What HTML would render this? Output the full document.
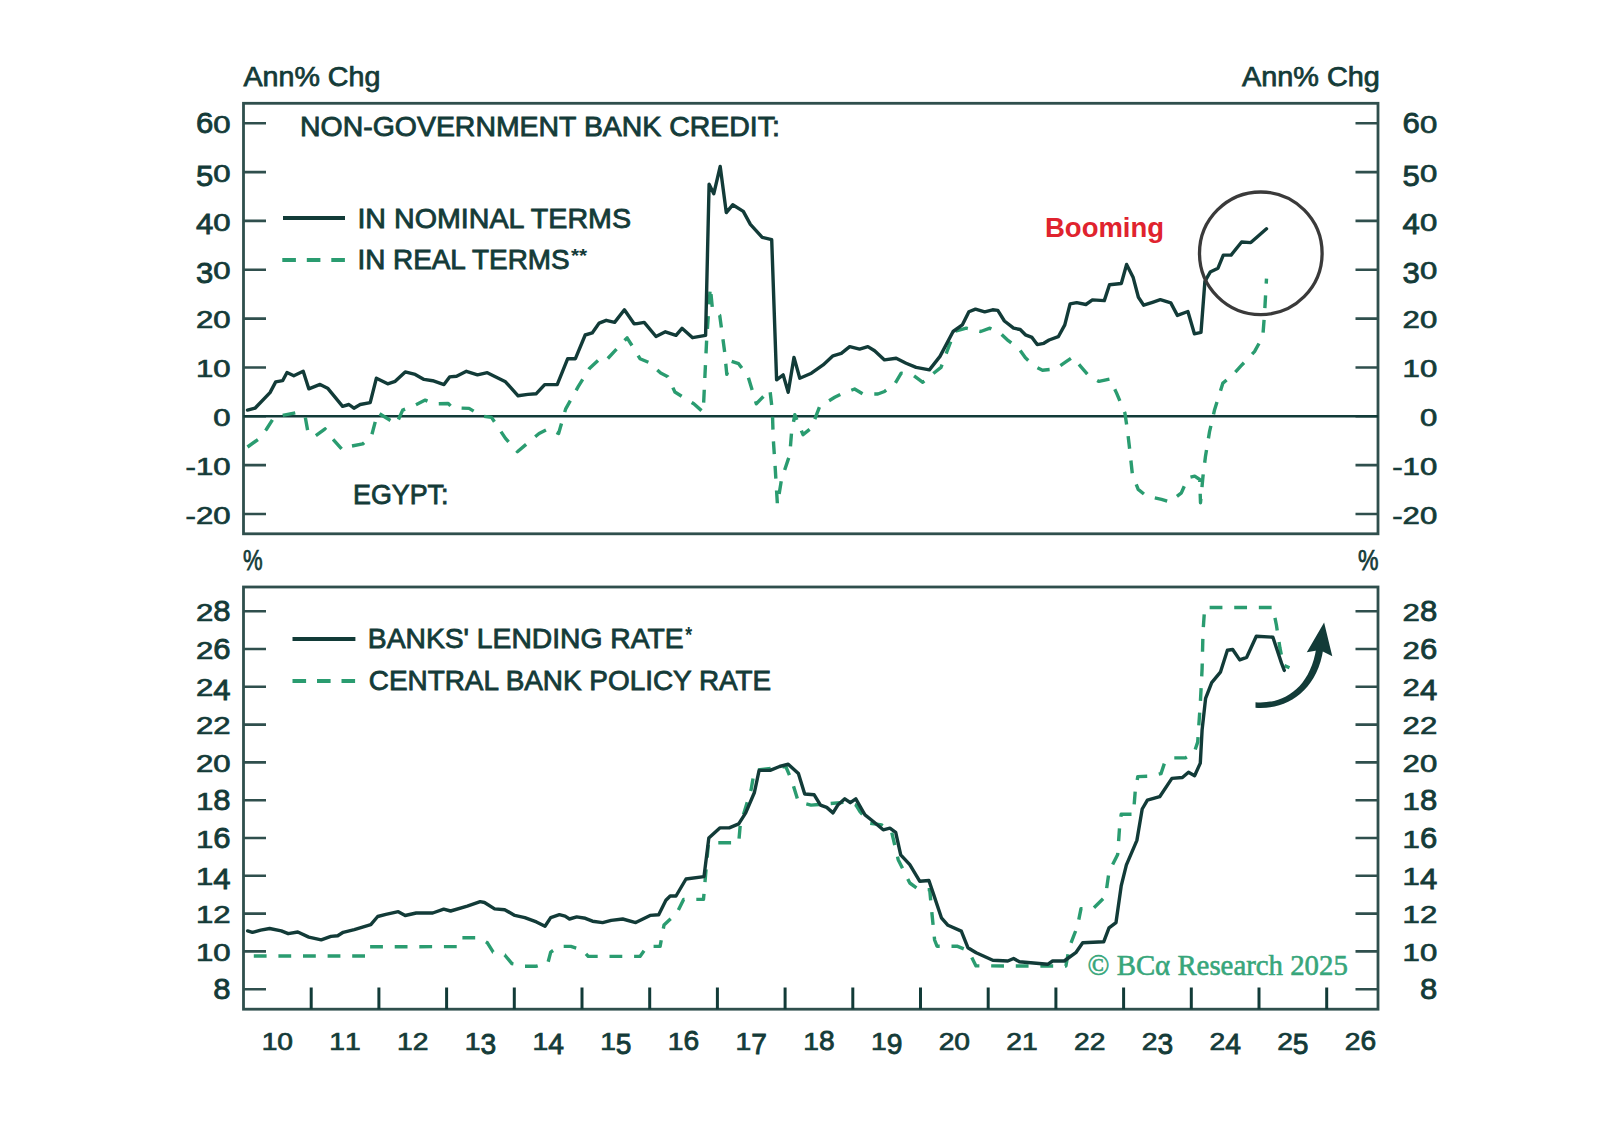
<!DOCTYPE html>
<html><head><meta charset="utf-8"><style>
html,body{margin:0;padding:0;background:#fff;}
body{width:1598px;height:1144px;overflow:hidden;}
svg{display:block;}
</style></head><body>
<svg width="1598" height="1144" viewBox="0 0 1598 1144">
<rect width="1598" height="1144" fill="#fff"/>
<text x="243.50" y="86.00" font-family="Liberation Sans" font-size="26.96" font-weight="normal" fill="#143b38" stroke="#143b38" stroke-width="0.75" textLength="136.84" lengthAdjust="spacingAndGlyphs">Ann% Chg</text>
<text x="1242.00" y="86.00" font-family="Liberation Sans" font-size="26.96" font-weight="normal" fill="#143b38" stroke="#143b38" stroke-width="0.75" textLength="137.84" lengthAdjust="spacingAndGlyphs">Ann% Chg</text>
<text x="300.00" y="135.50" font-family="Liberation Sans" font-size="28.24" font-weight="normal" fill="#143b38" stroke="#143b38" stroke-width="0.85" textLength="479.83" lengthAdjust="spacingAndGlyphs">NON-GOVERNMENT BANK CREDIT:</text>
<text x="357.40" y="227.50" font-family="Liberation Sans" font-size="27.56" font-weight="normal" fill="#143b38" stroke="#143b38" stroke-width="0.85" textLength="273.63" lengthAdjust="spacingAndGlyphs">IN NOMINAL TERMS</text>
<text x="357.40" y="268.50" font-family="Liberation Sans" font-size="26.85" font-weight="normal" fill="#143b38" stroke="#143b38" stroke-width="0.85" textLength="212.17" lengthAdjust="spacingAndGlyphs">IN REAL TERMS</text>
<text x="353.00" y="503.50" font-family="Liberation Sans" font-size="28.39" font-weight="normal" fill="#143b38" stroke="#143b38" stroke-width="0.85" textLength="95.50" lengthAdjust="spacingAndGlyphs">EGYPT:</text>
<text x="1045.00" y="236.50" font-family="Liberation Sans" font-size="28.49" font-weight="bold" fill="#e0232e" textLength="119.08" lengthAdjust="spacingAndGlyphs">Booming</text>
<text x="243.00" y="570.00" font-family="Liberation Sans" font-size="29.49" font-weight="normal" fill="#143b38" stroke="#143b38" stroke-width="0.75" textLength="19.64" lengthAdjust="spacingAndGlyphs">%</text>
<text x="1358.00" y="570.00" font-family="Liberation Sans" font-size="28.67" font-weight="normal" fill="#143b38" stroke="#143b38" stroke-width="0.75" textLength="20.53" lengthAdjust="spacingAndGlyphs">%</text>
<text x="367.80" y="647.50" font-family="Liberation Sans" font-size="28.09" font-weight="normal" fill="#143b38" stroke="#143b38" stroke-width="0.85" textLength="315.84" lengthAdjust="spacingAndGlyphs">BANKS' LENDING RATE</text>
<text x="368.80" y="690.00" font-family="Liberation Sans" font-size="27.97" font-weight="normal" fill="#143b38" stroke="#143b38" stroke-width="0.85" textLength="402.41" lengthAdjust="spacingAndGlyphs">CENTRAL BANK POLICY RATE</text>
<text x="1087.60" y="975.00" font-family="Liberation Serif" font-size="29.65" font-weight="normal" fill="#37a67b" stroke="#37a67b" stroke-width="0.6" textLength="260.21" lengthAdjust="spacingAndGlyphs">© BCα Research 2025</text>
<text x="685.20" y="641.90" font-family="Liberation Sans" font-size="22.39" font-weight="bold" fill="#143b38" textLength="6.87" lengthAdjust="spacingAndGlyphs">*</text>
<text x="571.00" y="262.00" font-family="Liberation Sans" font-size="17.76" font-weight="bold" fill="#143b38" textLength="16.23" lengthAdjust="spacingAndGlyphs">**</text>
<text transform="translate(185.53,523.60) scale(1.27,1)" font-family="Liberation Sans" font-size="24.5" fill="#143b38" stroke="#143b38" stroke-width="0.7">-</text><text transform="translate(195.89,523.60) scale(1.27,1)" font-family="Liberation Sans" font-size="24.5" fill="#143b38" stroke="#143b38" stroke-width="0.7">2</text><text transform="translate(213.19,523.60) scale(1.27,1)" font-family="Liberation Sans" font-size="24.5" fill="#143b38" stroke="#143b38" stroke-width="0.7">0</text>
<text transform="translate(1392.23,523.60) scale(1.27,1)" font-family="Liberation Sans" font-size="24.5" fill="#143b38" stroke="#143b38" stroke-width="0.7">-</text><text transform="translate(1402.59,523.60) scale(1.27,1)" font-family="Liberation Sans" font-size="24.5" fill="#143b38" stroke="#143b38" stroke-width="0.7">2</text><text transform="translate(1419.89,523.60) scale(1.27,1)" font-family="Liberation Sans" font-size="24.5" fill="#143b38" stroke="#143b38" stroke-width="0.7">0</text>
<text transform="translate(185.53,474.75) scale(1.27,1)" font-family="Liberation Sans" font-size="24.5" fill="#143b38" stroke="#143b38" stroke-width="0.7">-</text><text transform="translate(195.89,474.75) scale(1.27,1)" font-family="Liberation Sans" font-size="24.5" fill="#143b38" stroke="#143b38" stroke-width="0.7">1</text><text transform="translate(213.19,474.75) scale(1.27,1)" font-family="Liberation Sans" font-size="24.5" fill="#143b38" stroke="#143b38" stroke-width="0.7">0</text>
<text transform="translate(1392.23,474.75) scale(1.27,1)" font-family="Liberation Sans" font-size="24.5" fill="#143b38" stroke="#143b38" stroke-width="0.7">-</text><text transform="translate(1402.59,474.75) scale(1.27,1)" font-family="Liberation Sans" font-size="24.5" fill="#143b38" stroke="#143b38" stroke-width="0.7">1</text><text transform="translate(1419.89,474.75) scale(1.27,1)" font-family="Liberation Sans" font-size="24.5" fill="#143b38" stroke="#143b38" stroke-width="0.7">0</text>
<text transform="translate(213.19,425.90) scale(1.27,1)" font-family="Liberation Sans" font-size="24.5" fill="#143b38" stroke="#143b38" stroke-width="0.7">0</text>
<text transform="translate(1419.89,425.90) scale(1.27,1)" font-family="Liberation Sans" font-size="24.5" fill="#143b38" stroke="#143b38" stroke-width="0.7">0</text>
<text transform="translate(195.89,377.05) scale(1.27,1)" font-family="Liberation Sans" font-size="24.5" fill="#143b38" stroke="#143b38" stroke-width="0.7">1</text><text transform="translate(213.19,377.05) scale(1.27,1)" font-family="Liberation Sans" font-size="24.5" fill="#143b38" stroke="#143b38" stroke-width="0.7">0</text>
<text transform="translate(1402.59,377.05) scale(1.27,1)" font-family="Liberation Sans" font-size="24.5" fill="#143b38" stroke="#143b38" stroke-width="0.7">1</text><text transform="translate(1419.89,377.05) scale(1.27,1)" font-family="Liberation Sans" font-size="24.5" fill="#143b38" stroke="#143b38" stroke-width="0.7">0</text>
<text transform="translate(195.89,328.20) scale(1.27,1)" font-family="Liberation Sans" font-size="24.5" fill="#143b38" stroke="#143b38" stroke-width="0.7">2</text><text transform="translate(213.19,328.20) scale(1.27,1)" font-family="Liberation Sans" font-size="24.5" fill="#143b38" stroke="#143b38" stroke-width="0.7">0</text>
<text transform="translate(1402.59,328.20) scale(1.27,1)" font-family="Liberation Sans" font-size="24.5" fill="#143b38" stroke="#143b38" stroke-width="0.7">2</text><text transform="translate(1419.89,328.20) scale(1.27,1)" font-family="Liberation Sans" font-size="24.5" fill="#143b38" stroke="#143b38" stroke-width="0.7">0</text>
<text transform="translate(195.89,283.21) scale(1.27,1.22)" font-family="Liberation Sans" font-size="24.5" fill="#143b38" stroke="#143b38" stroke-width="0.7">3</text><text transform="translate(213.19,279.35) scale(1.27,1)" font-family="Liberation Sans" font-size="24.5" fill="#143b38" stroke="#143b38" stroke-width="0.7">0</text>
<text transform="translate(1402.59,283.21) scale(1.27,1.22)" font-family="Liberation Sans" font-size="24.5" fill="#143b38" stroke="#143b38" stroke-width="0.7">3</text><text transform="translate(1419.89,279.35) scale(1.27,1)" font-family="Liberation Sans" font-size="24.5" fill="#143b38" stroke="#143b38" stroke-width="0.7">0</text>
<text transform="translate(195.89,234.36) scale(1.27,1.22)" font-family="Liberation Sans" font-size="24.5" fill="#143b38" stroke="#143b38" stroke-width="0.7">4</text><text transform="translate(213.19,230.50) scale(1.27,1)" font-family="Liberation Sans" font-size="24.5" fill="#143b38" stroke="#143b38" stroke-width="0.7">0</text>
<text transform="translate(1402.59,234.36) scale(1.27,1.22)" font-family="Liberation Sans" font-size="24.5" fill="#143b38" stroke="#143b38" stroke-width="0.7">4</text><text transform="translate(1419.89,230.50) scale(1.27,1)" font-family="Liberation Sans" font-size="24.5" fill="#143b38" stroke="#143b38" stroke-width="0.7">0</text>
<text transform="translate(195.89,185.51) scale(1.27,1.22)" font-family="Liberation Sans" font-size="24.5" fill="#143b38" stroke="#143b38" stroke-width="0.7">5</text><text transform="translate(213.19,181.65) scale(1.27,1)" font-family="Liberation Sans" font-size="24.5" fill="#143b38" stroke="#143b38" stroke-width="0.7">0</text>
<text transform="translate(1402.59,185.51) scale(1.27,1.22)" font-family="Liberation Sans" font-size="24.5" fill="#143b38" stroke="#143b38" stroke-width="0.7">5</text><text transform="translate(1419.89,181.65) scale(1.27,1)" font-family="Liberation Sans" font-size="24.5" fill="#143b38" stroke="#143b38" stroke-width="0.7">0</text>
<text transform="translate(195.89,132.80) scale(1.27,1.2)" font-family="Liberation Sans" font-size="24.5" fill="#143b38" stroke="#143b38" stroke-width="0.7">6</text><text transform="translate(213.19,132.80) scale(1.27,1)" font-family="Liberation Sans" font-size="24.5" fill="#143b38" stroke="#143b38" stroke-width="0.7">0</text>
<text transform="translate(1402.59,132.80) scale(1.27,1.2)" font-family="Liberation Sans" font-size="24.5" fill="#143b38" stroke="#143b38" stroke-width="0.7">6</text><text transform="translate(1419.89,132.80) scale(1.27,1)" font-family="Liberation Sans" font-size="24.5" fill="#143b38" stroke="#143b38" stroke-width="0.7">0</text>
<text transform="translate(213.19,998.80) scale(1.27,1.2)" font-family="Liberation Sans" font-size="24.5" fill="#143b38" stroke="#143b38" stroke-width="0.7">8</text>
<text transform="translate(1419.89,998.80) scale(1.27,1.2)" font-family="Liberation Sans" font-size="24.5" fill="#143b38" stroke="#143b38" stroke-width="0.7">8</text>
<text transform="translate(195.89,961.00) scale(1.27,1)" font-family="Liberation Sans" font-size="24.5" fill="#143b38" stroke="#143b38" stroke-width="0.7">1</text><text transform="translate(213.19,961.00) scale(1.27,1)" font-family="Liberation Sans" font-size="24.5" fill="#143b38" stroke="#143b38" stroke-width="0.7">0</text>
<text transform="translate(1402.59,961.00) scale(1.27,1)" font-family="Liberation Sans" font-size="24.5" fill="#143b38" stroke="#143b38" stroke-width="0.7">1</text><text transform="translate(1419.89,961.00) scale(1.27,1)" font-family="Liberation Sans" font-size="24.5" fill="#143b38" stroke="#143b38" stroke-width="0.7">0</text>
<text transform="translate(195.89,923.20) scale(1.27,1)" font-family="Liberation Sans" font-size="24.5" fill="#143b38" stroke="#143b38" stroke-width="0.7">1</text><text transform="translate(213.19,923.20) scale(1.27,1)" font-family="Liberation Sans" font-size="24.5" fill="#143b38" stroke="#143b38" stroke-width="0.7">2</text>
<text transform="translate(1402.59,923.20) scale(1.27,1)" font-family="Liberation Sans" font-size="24.5" fill="#143b38" stroke="#143b38" stroke-width="0.7">1</text><text transform="translate(1419.89,923.20) scale(1.27,1)" font-family="Liberation Sans" font-size="24.5" fill="#143b38" stroke="#143b38" stroke-width="0.7">2</text>
<text transform="translate(195.89,885.40) scale(1.27,1)" font-family="Liberation Sans" font-size="24.5" fill="#143b38" stroke="#143b38" stroke-width="0.7">1</text><text transform="translate(213.19,889.26) scale(1.27,1.22)" font-family="Liberation Sans" font-size="24.5" fill="#143b38" stroke="#143b38" stroke-width="0.7">4</text>
<text transform="translate(1402.59,885.40) scale(1.27,1)" font-family="Liberation Sans" font-size="24.5" fill="#143b38" stroke="#143b38" stroke-width="0.7">1</text><text transform="translate(1419.89,889.26) scale(1.27,1.22)" font-family="Liberation Sans" font-size="24.5" fill="#143b38" stroke="#143b38" stroke-width="0.7">4</text>
<text transform="translate(195.89,847.60) scale(1.27,1)" font-family="Liberation Sans" font-size="24.5" fill="#143b38" stroke="#143b38" stroke-width="0.7">1</text><text transform="translate(213.19,847.60) scale(1.27,1.2)" font-family="Liberation Sans" font-size="24.5" fill="#143b38" stroke="#143b38" stroke-width="0.7">6</text>
<text transform="translate(1402.59,847.60) scale(1.27,1)" font-family="Liberation Sans" font-size="24.5" fill="#143b38" stroke="#143b38" stroke-width="0.7">1</text><text transform="translate(1419.89,847.60) scale(1.27,1.2)" font-family="Liberation Sans" font-size="24.5" fill="#143b38" stroke="#143b38" stroke-width="0.7">6</text>
<text transform="translate(195.89,809.80) scale(1.27,1)" font-family="Liberation Sans" font-size="24.5" fill="#143b38" stroke="#143b38" stroke-width="0.7">1</text><text transform="translate(213.19,809.80) scale(1.27,1.2)" font-family="Liberation Sans" font-size="24.5" fill="#143b38" stroke="#143b38" stroke-width="0.7">8</text>
<text transform="translate(1402.59,809.80) scale(1.27,1)" font-family="Liberation Sans" font-size="24.5" fill="#143b38" stroke="#143b38" stroke-width="0.7">1</text><text transform="translate(1419.89,809.80) scale(1.27,1.2)" font-family="Liberation Sans" font-size="24.5" fill="#143b38" stroke="#143b38" stroke-width="0.7">8</text>
<text transform="translate(195.89,772.00) scale(1.27,1)" font-family="Liberation Sans" font-size="24.5" fill="#143b38" stroke="#143b38" stroke-width="0.7">2</text><text transform="translate(213.19,772.00) scale(1.27,1)" font-family="Liberation Sans" font-size="24.5" fill="#143b38" stroke="#143b38" stroke-width="0.7">0</text>
<text transform="translate(1402.59,772.00) scale(1.27,1)" font-family="Liberation Sans" font-size="24.5" fill="#143b38" stroke="#143b38" stroke-width="0.7">2</text><text transform="translate(1419.89,772.00) scale(1.27,1)" font-family="Liberation Sans" font-size="24.5" fill="#143b38" stroke="#143b38" stroke-width="0.7">0</text>
<text transform="translate(195.89,734.20) scale(1.27,1)" font-family="Liberation Sans" font-size="24.5" fill="#143b38" stroke="#143b38" stroke-width="0.7">2</text><text transform="translate(213.19,734.20) scale(1.27,1)" font-family="Liberation Sans" font-size="24.5" fill="#143b38" stroke="#143b38" stroke-width="0.7">2</text>
<text transform="translate(1402.59,734.20) scale(1.27,1)" font-family="Liberation Sans" font-size="24.5" fill="#143b38" stroke="#143b38" stroke-width="0.7">2</text><text transform="translate(1419.89,734.20) scale(1.27,1)" font-family="Liberation Sans" font-size="24.5" fill="#143b38" stroke="#143b38" stroke-width="0.7">2</text>
<text transform="translate(195.89,696.40) scale(1.27,1)" font-family="Liberation Sans" font-size="24.5" fill="#143b38" stroke="#143b38" stroke-width="0.7">2</text><text transform="translate(213.19,700.26) scale(1.27,1.22)" font-family="Liberation Sans" font-size="24.5" fill="#143b38" stroke="#143b38" stroke-width="0.7">4</text>
<text transform="translate(1402.59,696.40) scale(1.27,1)" font-family="Liberation Sans" font-size="24.5" fill="#143b38" stroke="#143b38" stroke-width="0.7">2</text><text transform="translate(1419.89,700.26) scale(1.27,1.22)" font-family="Liberation Sans" font-size="24.5" fill="#143b38" stroke="#143b38" stroke-width="0.7">4</text>
<text transform="translate(195.89,658.60) scale(1.27,1)" font-family="Liberation Sans" font-size="24.5" fill="#143b38" stroke="#143b38" stroke-width="0.7">2</text><text transform="translate(213.19,658.60) scale(1.27,1.2)" font-family="Liberation Sans" font-size="24.5" fill="#143b38" stroke="#143b38" stroke-width="0.7">6</text>
<text transform="translate(1402.59,658.60) scale(1.27,1)" font-family="Liberation Sans" font-size="24.5" fill="#143b38" stroke="#143b38" stroke-width="0.7">2</text><text transform="translate(1419.89,658.60) scale(1.27,1.2)" font-family="Liberation Sans" font-size="24.5" fill="#143b38" stroke="#143b38" stroke-width="0.7">6</text>
<text transform="translate(195.89,620.80) scale(1.27,1)" font-family="Liberation Sans" font-size="24.5" fill="#143b38" stroke="#143b38" stroke-width="0.7">2</text><text transform="translate(213.19,620.80) scale(1.27,1.2)" font-family="Liberation Sans" font-size="24.5" fill="#143b38" stroke="#143b38" stroke-width="0.7">8</text>
<text transform="translate(1402.59,620.80) scale(1.27,1)" font-family="Liberation Sans" font-size="24.5" fill="#143b38" stroke="#143b38" stroke-width="0.7">2</text><text transform="translate(1419.89,620.80) scale(1.27,1.2)" font-family="Liberation Sans" font-size="24.5" fill="#143b38" stroke="#143b38" stroke-width="0.7">8</text>
<text transform="translate(261.67,1050.20) scale(1.2,1)" font-family="Liberation Sans" font-size="23.5" fill="#143b38" stroke="#143b38" stroke-width="0.7">1</text><text transform="translate(277.35,1050.20) scale(1.2,1)" font-family="Liberation Sans" font-size="23.5" fill="#143b38" stroke="#143b38" stroke-width="0.7">0</text>
<text transform="translate(329.37,1050.20) scale(1.2,1)" font-family="Liberation Sans" font-size="23.5" fill="#143b38" stroke="#143b38" stroke-width="0.7">1</text><text transform="translate(345.05,1050.20) scale(1.2,1)" font-family="Liberation Sans" font-size="23.5" fill="#143b38" stroke="#143b38" stroke-width="0.7">1</text>
<text transform="translate(397.07,1050.20) scale(1.2,1)" font-family="Liberation Sans" font-size="23.5" fill="#143b38" stroke="#143b38" stroke-width="0.7">1</text><text transform="translate(412.75,1050.20) scale(1.2,1)" font-family="Liberation Sans" font-size="23.5" fill="#143b38" stroke="#143b38" stroke-width="0.7">2</text>
<text transform="translate(464.77,1050.20) scale(1.2,1)" font-family="Liberation Sans" font-size="23.5" fill="#143b38" stroke="#143b38" stroke-width="0.7">1</text><text transform="translate(480.45,1053.90) scale(1.2,1.22)" font-family="Liberation Sans" font-size="23.5" fill="#143b38" stroke="#143b38" stroke-width="0.7">3</text>
<text transform="translate(532.47,1050.20) scale(1.2,1)" font-family="Liberation Sans" font-size="23.5" fill="#143b38" stroke="#143b38" stroke-width="0.7">1</text><text transform="translate(548.15,1053.90) scale(1.2,1.22)" font-family="Liberation Sans" font-size="23.5" fill="#143b38" stroke="#143b38" stroke-width="0.7">4</text>
<text transform="translate(600.17,1050.20) scale(1.2,1)" font-family="Liberation Sans" font-size="23.5" fill="#143b38" stroke="#143b38" stroke-width="0.7">1</text><text transform="translate(615.85,1053.90) scale(1.2,1.22)" font-family="Liberation Sans" font-size="23.5" fill="#143b38" stroke="#143b38" stroke-width="0.7">5</text>
<text transform="translate(667.87,1050.20) scale(1.2,1)" font-family="Liberation Sans" font-size="23.5" fill="#143b38" stroke="#143b38" stroke-width="0.7">1</text><text transform="translate(683.55,1050.20) scale(1.2,1.2)" font-family="Liberation Sans" font-size="23.5" fill="#143b38" stroke="#143b38" stroke-width="0.7">6</text>
<text transform="translate(735.57,1050.20) scale(1.2,1)" font-family="Liberation Sans" font-size="23.5" fill="#143b38" stroke="#143b38" stroke-width="0.7">1</text><text transform="translate(751.25,1053.90) scale(1.2,1.22)" font-family="Liberation Sans" font-size="23.5" fill="#143b38" stroke="#143b38" stroke-width="0.7">7</text>
<text transform="translate(803.27,1050.20) scale(1.2,1)" font-family="Liberation Sans" font-size="23.5" fill="#143b38" stroke="#143b38" stroke-width="0.7">1</text><text transform="translate(818.95,1050.20) scale(1.2,1.2)" font-family="Liberation Sans" font-size="23.5" fill="#143b38" stroke="#143b38" stroke-width="0.7">8</text>
<text transform="translate(870.97,1050.20) scale(1.2,1)" font-family="Liberation Sans" font-size="23.5" fill="#143b38" stroke="#143b38" stroke-width="0.7">1</text><text transform="translate(886.65,1053.90) scale(1.2,1.22)" font-family="Liberation Sans" font-size="23.5" fill="#143b38" stroke="#143b38" stroke-width="0.7">9</text>
<text transform="translate(938.67,1050.20) scale(1.2,1)" font-family="Liberation Sans" font-size="23.5" fill="#143b38" stroke="#143b38" stroke-width="0.7">2</text><text transform="translate(954.35,1050.20) scale(1.2,1)" font-family="Liberation Sans" font-size="23.5" fill="#143b38" stroke="#143b38" stroke-width="0.7">0</text>
<text transform="translate(1006.37,1050.20) scale(1.2,1)" font-family="Liberation Sans" font-size="23.5" fill="#143b38" stroke="#143b38" stroke-width="0.7">2</text><text transform="translate(1022.05,1050.20) scale(1.2,1)" font-family="Liberation Sans" font-size="23.5" fill="#143b38" stroke="#143b38" stroke-width="0.7">1</text>
<text transform="translate(1074.07,1050.20) scale(1.2,1)" font-family="Liberation Sans" font-size="23.5" fill="#143b38" stroke="#143b38" stroke-width="0.7">2</text><text transform="translate(1089.75,1050.20) scale(1.2,1)" font-family="Liberation Sans" font-size="23.5" fill="#143b38" stroke="#143b38" stroke-width="0.7">2</text>
<text transform="translate(1141.77,1050.20) scale(1.2,1)" font-family="Liberation Sans" font-size="23.5" fill="#143b38" stroke="#143b38" stroke-width="0.7">2</text><text transform="translate(1157.45,1053.90) scale(1.2,1.22)" font-family="Liberation Sans" font-size="23.5" fill="#143b38" stroke="#143b38" stroke-width="0.7">3</text>
<text transform="translate(1209.47,1050.20) scale(1.2,1)" font-family="Liberation Sans" font-size="23.5" fill="#143b38" stroke="#143b38" stroke-width="0.7">2</text><text transform="translate(1225.15,1053.90) scale(1.2,1.22)" font-family="Liberation Sans" font-size="23.5" fill="#143b38" stroke="#143b38" stroke-width="0.7">4</text>
<text transform="translate(1277.17,1050.20) scale(1.2,1)" font-family="Liberation Sans" font-size="23.5" fill="#143b38" stroke="#143b38" stroke-width="0.7">2</text><text transform="translate(1292.85,1053.90) scale(1.2,1.22)" font-family="Liberation Sans" font-size="23.5" fill="#143b38" stroke="#143b38" stroke-width="0.7">5</text>
<text transform="translate(1344.87,1050.20) scale(1.2,1)" font-family="Liberation Sans" font-size="23.5" fill="#143b38" stroke="#143b38" stroke-width="0.7">2</text><text transform="translate(1360.55,1050.20) scale(1.2,1.2)" font-family="Liberation Sans" font-size="23.5" fill="#143b38" stroke="#143b38" stroke-width="0.7">6</text>
<rect x="243.5" y="103.3" width="1134.5" height="430.49999999999994" fill="none" stroke="#2f4f4d" stroke-width="2.8"/>
<rect x="243.5" y="587" width="1134.5" height="422.20000000000005" fill="none" stroke="#2f4f4d" stroke-width="2.8"/>
<path d="M243.5,514.0h22.5M1355.5,514.0h22.5" stroke="#2f4f4d" stroke-width="2.6"/>
<path d="M243.5,465.1h22.5M1355.5,465.1h22.5" stroke="#2f4f4d" stroke-width="2.6"/>
<path d="M243.5,416.3h22.5M1355.5,416.3h22.5" stroke="#2f4f4d" stroke-width="2.6"/>
<path d="M243.5,367.5h22.5M1355.5,367.5h22.5" stroke="#2f4f4d" stroke-width="2.6"/>
<path d="M243.5,318.6h22.5M1355.5,318.6h22.5" stroke="#2f4f4d" stroke-width="2.6"/>
<path d="M243.5,269.8h22.5M1355.5,269.8h22.5" stroke="#2f4f4d" stroke-width="2.6"/>
<path d="M243.5,220.9h22.5M1355.5,220.9h22.5" stroke="#2f4f4d" stroke-width="2.6"/>
<path d="M243.5,172.1h22.5M1355.5,172.1h22.5" stroke="#2f4f4d" stroke-width="2.6"/>
<path d="M243.5,123.2h22.5M1355.5,123.2h22.5" stroke="#2f4f4d" stroke-width="2.6"/>
<line x1="243.5" y1="416.3" x2="1378" y2="416.3" stroke="#123b38" stroke-width="2.5"/>
<path d="M243.5,989.2h22.5M1355.5,989.2h22.5" stroke="#2f4f4d" stroke-width="2.6"/>
<path d="M243.5,951.4h22.5M1355.5,951.4h22.5" stroke="#2f4f4d" stroke-width="2.6"/>
<path d="M243.5,913.6h22.5M1355.5,913.6h22.5" stroke="#2f4f4d" stroke-width="2.6"/>
<path d="M243.5,875.8h22.5M1355.5,875.8h22.5" stroke="#2f4f4d" stroke-width="2.6"/>
<path d="M243.5,838.0h22.5M1355.5,838.0h22.5" stroke="#2f4f4d" stroke-width="2.6"/>
<path d="M243.5,800.2h22.5M1355.5,800.2h22.5" stroke="#2f4f4d" stroke-width="2.6"/>
<path d="M243.5,762.4h22.5M1355.5,762.4h22.5" stroke="#2f4f4d" stroke-width="2.6"/>
<path d="M243.5,724.6h22.5M1355.5,724.6h22.5" stroke="#2f4f4d" stroke-width="2.6"/>
<path d="M243.5,686.8h22.5M1355.5,686.8h22.5" stroke="#2f4f4d" stroke-width="2.6"/>
<path d="M243.5,649.0h22.5M1355.5,649.0h22.5" stroke="#2f4f4d" stroke-width="2.6"/>
<path d="M243.5,611.2h22.5M1355.5,611.2h22.5" stroke="#2f4f4d" stroke-width="2.6"/>
<line x1="311.2" y1="987.5" x2="311.2" y2="1009.2" stroke="#123b38" stroke-width="3"/>
<line x1="378.9" y1="987.5" x2="378.9" y2="1009.2" stroke="#123b38" stroke-width="3"/>
<line x1="446.6" y1="987.5" x2="446.6" y2="1009.2" stroke="#123b38" stroke-width="3"/>
<line x1="514.3" y1="987.5" x2="514.3" y2="1009.2" stroke="#123b38" stroke-width="3"/>
<line x1="582.0" y1="987.5" x2="582.0" y2="1009.2" stroke="#123b38" stroke-width="3"/>
<line x1="649.7" y1="987.5" x2="649.7" y2="1009.2" stroke="#123b38" stroke-width="3"/>
<line x1="717.4" y1="987.5" x2="717.4" y2="1009.2" stroke="#123b38" stroke-width="3"/>
<line x1="785.1" y1="987.5" x2="785.1" y2="1009.2" stroke="#123b38" stroke-width="3"/>
<line x1="852.8" y1="987.5" x2="852.8" y2="1009.2" stroke="#123b38" stroke-width="3"/>
<line x1="920.5" y1="987.5" x2="920.5" y2="1009.2" stroke="#123b38" stroke-width="3"/>
<line x1="988.2" y1="987.5" x2="988.2" y2="1009.2" stroke="#123b38" stroke-width="3"/>
<line x1="1055.9" y1="987.5" x2="1055.9" y2="1009.2" stroke="#123b38" stroke-width="3"/>
<line x1="1123.6" y1="987.5" x2="1123.6" y2="1009.2" stroke="#123b38" stroke-width="3"/>
<line x1="1191.3" y1="987.5" x2="1191.3" y2="1009.2" stroke="#123b38" stroke-width="3"/>
<line x1="1259.0" y1="987.5" x2="1259.0" y2="1009.2" stroke="#123b38" stroke-width="3"/>
<line x1="1326.7" y1="987.5" x2="1326.7" y2="1009.2" stroke="#123b38" stroke-width="3"/>
<line x1="283" y1="218" x2="345" y2="218" stroke="#123b38" stroke-width="4.2"/>
<line x1="282.3" y1="260" x2="345" y2="260" stroke="#2a9c70" stroke-width="4.2" stroke-dasharray="13.6 10.9"/>
<line x1="292.5" y1="639" x2="355.4" y2="639" stroke="#123b38" stroke-width="4.2"/>
<line x1="292.5" y1="681" x2="355.4" y2="681" stroke="#2a9c70" stroke-width="4.2" stroke-dasharray="13.6 10.9"/>
<polyline points="247.5,447.0 258.8,438.9 266.3,429.5 273.8,417.6 283.8,415.1 296.3,412.6 305.1,416.3 307.6,430.1 313.8,437.0 325.1,428.9 332.6,438.9 342.6,450.1 350.1,446.4 362.7,443.9 371.4,436.4 377.7,412.6 387.7,418.8 396.4,423.9 402.7,410.1 412.7,406.3 425.2,400.1 434.0,403.8 448.2,403.5 452.4,407.7 469.1,408.4 481.7,416.0 491.5,417.4 505.5,438.4 517.4,451.7 539.1,433.5 548.8,428.6 558.6,433.5 565.6,409.1 578.2,386.7 589.4,368.5 602.0,356.6 607.6,358.7 627.1,337.8 634.1,348.9 640.0,358.7 648.9,362.5 660.7,373.1 667.8,376.7 674.9,392.0 693.8,403.8 703.2,412.1 706.7,338.9 710.3,287.0 712.6,310.6 719.7,315.3 724.5,350.7 726.8,374.3 731.5,361.3 738.6,363.7 748.1,376.7 756.3,403.8 769.9,389.8 772.4,411.4 773.2,438.0 774.9,462.9 777.4,504.4 781.5,479.5 789.8,454.6 791.5,433.0 794.8,414.7 803.0,434.7 811.4,428.0 819.7,406.4 834.7,397.3 841.3,394.0 854.6,389.0 862.9,394.0 877.9,394.0 884.5,391.5 895.3,383.2 901.2,373.2 912.8,374.9 922.8,382.3 932.7,374.0 941.0,367.4 946.6,352.5 954.5,331.5 966.3,328.2 980.7,331.5 989.9,328.2 1000.4,333.4 1008.3,340.7 1018.8,348.6 1025.4,357.8 1034.6,366.3 1042.5,370.2 1055.6,368.9 1066.1,361.7 1072.7,357.1 1080.6,366.3 1089.1,376.1 1099.0,381.4 1110.0,379.0 1116.6,393.1 1124.9,413.0 1127.4,429.7 1129.9,451.2 1132.4,474.5 1138.2,489.4 1146.5,496.1 1161.5,499.4 1169.8,501.9 1181.4,492.8 1188.0,477.8 1194.7,476.2 1199.7,479.5 1200.5,502.7 1203.0,476.2 1205.5,456.2 1209.6,431.3 1214.6,409.7 1222.9,383.1 1232.9,374.8 1241.2,365.7 1254.5,351.6 1262.8,336.6 1264.6,312.8 1266.5,278.7" fill="none" stroke="#2a9c70" stroke-width="3.4" stroke-dasharray="12.8 11.8" stroke-linejoin="round"/>
<polyline points="247.5,410.1 255.0,408.2 270.0,392.6 275.7,381.9 282.6,380.7 287.0,372.5 293.8,375.7 303.2,371.3 308.8,388.8 320.1,384.4 327.6,388.2 342.6,406.3 348.9,404.5 353.9,408.2 360.2,404.5 370.2,402.6 376.4,378.2 387.7,383.8 395.2,381.3 405.2,371.9 415.2,374.4 424.0,379.4 432.7,380.7 444.0,384.6 449.6,376.9 456.6,376.2 466.4,371.3 477.5,374.8 487.3,372.7 494.3,376.2 505.5,381.8 518.1,395.8 527.9,394.4 536.3,393.7 544.7,384.6 557.2,384.6 567.7,358.7 575.4,358.7 585.2,335.0 592.2,332.9 599.2,323.1 606.2,320.3 614.6,322.4 624.4,309.8 634.1,323.8 637.1,323.6 644.2,322.4 656.0,336.5 665.4,331.8 676.0,335.4 682.0,328.3 692.6,337.7 705.6,335.4 709.1,184.2 713.8,193.7 720.2,166.5 726.3,212.6 732.7,204.8 743.3,211.4 750.4,224.4 762.2,237.4 771.7,239.7 776.6,379.8 783.2,374.9 788.2,392.3 794.0,357.4 799.8,378.2 811.4,373.2 823.1,364.9 833.0,355.8 841.3,353.3 849.7,346.6 859.6,349.1 867.9,346.6 874.6,350.8 884.5,359.9 896.2,358.2 906.1,363.2 916.1,367.4 929.4,369.9 940.0,356.4 953.1,331.5 962.3,324.9 968.9,311.8 975.5,309.1 984.7,311.8 992.6,309.8 997.8,310.4 1004.4,321.0 1013.6,328.2 1020.2,329.5 1025.4,334.8 1032.0,337.4 1037.2,344.6 1043.8,343.3 1049.1,340.0 1058.3,336.7 1064.8,324.9 1070.1,303.9 1076.7,302.6 1085.9,304.5 1092.4,299.9 1104.3,300.6 1109.5,284.8 1121.3,283.5 1126.6,264.5 1133.2,277.6 1138.4,297.3 1143.7,305.2 1152.5,302.3 1160.3,299.7 1170.8,302.9 1177.4,315.4 1187.9,311.5 1194.4,333.8 1201.0,332.4 1204.9,281.3 1210.2,272.1 1218.0,268.2 1223.3,255.1 1231.1,255.1 1241.6,242.0 1250.8,242.6 1257.4,236.7 1266.5,228.8" fill="none" stroke="#123b38" stroke-width="3.4" stroke-linejoin="round" stroke-linecap="round"/>
<polyline points="246.0,956.0 366.0,956.0 369.0,946.8 458.6,946.6 462.0,937.7 478.8,937.7 487.4,942.8 493.2,952.1 504.7,955.0 511.9,963.6 524.8,966.2 536.4,966.2 547.9,962.9 550.7,952.1 559.4,946.4 570.9,946.4 582.4,950.0 588.2,956.4 640.0,956.4 647.2,946.4 660.1,946.4 664.0,925.0 677.0,913.0 683.6,899.4 703.5,899.4 706.0,870.0 708.5,842.8 738.7,842.8 740.2,825.5 751.2,789.3 754.4,770.4 785.8,766.5 792.1,781.5 798.4,801.9 811.0,805.1 830.0,803.5 848.0,802.0 856.0,805.0 860.0,811.6 870.0,823.2 881.6,824.9 891.5,831.5 898.2,859.7 909.8,883.0 918.9,889.6 929.7,889.6 932.0,914.0 934.6,940.0 937.0,946.2 957.0,946.2 964.0,949.0 971.3,956.5 976.0,965.9 1065.9,966.0 1069.2,947.7 1077.5,926.1 1081.0,908.6 1093.2,908.6 1105.5,896.4 1109.0,871.9 1117.7,854.4 1119.5,828.2 1121.2,814.2 1133.4,814.2 1135.2,791.5 1137.8,776.6 1150.5,776.2 1161.0,773.6 1164.5,763.1 1173.2,757.9 1185.5,757.9 1194.2,752.6 1197.7,742.1 1200.3,703.7 1202.1,668.7 1203.0,632.0 1204.7,607.5 1272.9,607.5 1276.4,625.0 1279.9,647.7 1283.4,665.2 1289.5,667.8" fill="none" stroke="#2a9c70" stroke-width="3.4" stroke-dasharray="12.8 11.8" stroke-dashoffset="16.8" stroke-linejoin="round"/>
<polyline points="247.6,930.9 252.4,932.3 260.7,930.2 269.6,928.5 281.3,930.9 288.2,933.7 297.8,932.0 308.8,937.1 321.2,939.9 330.9,936.4 337.7,935.8 343.2,932.3 354.3,929.6 370.8,924.7 377.7,916.5 385.9,914.4 398.3,911.7 405.2,915.5 416.2,913.0 432.7,913.0 443.7,909.2 450.6,911.0 467.3,906.1 480.2,901.7 484.5,902.5 494.6,908.9 504.7,909.7 514.8,915.4 524.8,917.6 536.4,921.9 545.0,926.2 550.7,917.6 559.4,914.7 565.1,916.1 569.5,919.0 576.7,916.9 585.3,918.3 592.5,921.2 602.6,922.6 611.2,920.4 622.7,919.0 635.7,922.6 650.1,915.4 658.7,914.7 665.9,900.3 670.2,896.0 676.0,896.0 686.0,879.0 704.0,876.6 708.8,838.1 719.8,827.9 729.2,827.9 738.7,823.9 745.7,812.9 754.4,792.5 759.1,770.4 770.1,770.4 779.6,766.5 788.2,764.2 798.4,773.6 804.7,794.0 814.2,794.8 820.5,805.1 826.7,807.4 833.0,812.9 837.8,805.1 844.8,798.8 850.3,802.7 855.8,798.8 862.9,811.3 865.0,814.9 873.3,821.5 883.2,829.8 889.9,828.2 895.7,832.3 900.7,854.8 909.8,864.7 919.8,881.3 928.9,880.5 933.1,892.9 941.4,917.8 948.0,925.3 961.3,931.1 967.9,947.7 976.2,952.7 992.8,960.2 1007.8,961.0 1013.6,958.5 1019.4,961.8 1047.6,964.3 1052.6,961.0 1064.2,961.0 1075.8,952.7 1082.7,942.7 1103.7,941.8 1109.0,927.9 1116.0,922.6 1121.2,885.9 1126.4,864.9 1136.9,840.4 1142.2,809.0 1147.4,800.2 1159.7,796.7 1171.9,778.4 1182.4,777.5 1188.5,772.2 1194.6,775.7 1200.3,763.1 1202.1,729.9 1205.6,698.4 1211.7,682.7 1220.4,672.2 1227.4,650.3 1232.7,649.5 1239.7,659.9 1246.7,657.3 1256.3,636.3 1272.9,637.2 1281.6,663.4 1284.3,670.4" fill="none" stroke="#123b38" stroke-width="3.4" stroke-linejoin="round" stroke-linecap="round"/>
<circle cx="1260.8" cy="253.3" r="61.3" fill="none" stroke="#3a3a3a" stroke-width="3.3"/>
<path d="M1255.5,702.3 C1284,704.5 1310,688 1316.3,648 L1323.3,649 C1317,692 1286,710 1255.5,707.8 Z" fill="#123b38"/>
<path d="M1324.1,622.5 L1306.8,652.3 L1319.8,650 L1332.3,656.2 Z" fill="#123b38"/>
</svg>
</body></html>
